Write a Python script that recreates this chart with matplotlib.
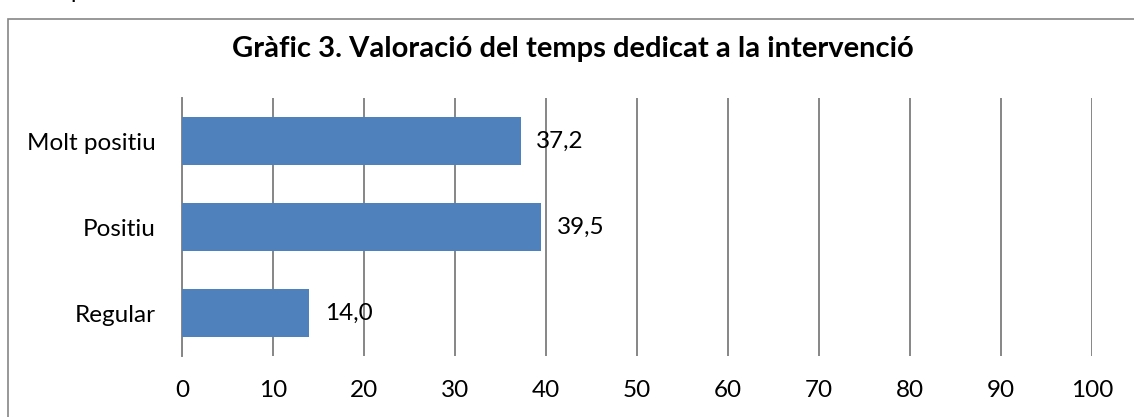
import matplotlib
matplotlib.use("Agg")
import matplotlib.pyplot as plt
from matplotlib.patches import Rectangle

plt.rcParams['font.family'] = ['Lato', 'DejaVu Sans']

# data
categories = ['Molt positiu', 'Positiu', 'Regular']
values = [37.2, 39.5, 14.0]
x_ticks = [0, 10, 20, 30, 40, 50, 60, 70, 80, 90, 100]
title = 'Gràfic 3. Valoració del temps dedicat a la intervenció'

bar_color = '#4F81BD'
grid_color = '#868686'

fig = plt.figure(figsize=(11.34, 4.17), dpi=100)

# outer chart frame (only left and top edges fall inside the picture)
fig.patches.append(Rectangle((8 / 1134, -0.1), 1.2, 1 - 19 / 417 + 0.1,
                             transform=fig.transFigure, fill=False,
                             edgecolor=grid_color, linewidth=1.2))
# piece of text cut off above the frame
fig.text(77 / 1134, 1 + 2 / 417, 'p', fontsize=17, ha='center', va='baseline')

ax = fig.add_axes([182 / 1134, 1 - 356 / 417, 910 / 1134, 258 / 417])

ypos = list(range(len(categories)))
ax.barh(ypos, values, height=0.56, color=bar_color, zorder=3)

for y, v in zip(ypos, values):
    ax.text(v + 1.7, y, f'{v:.1f}'.replace('.', ','), fontsize=17.5,
            va='center', ha='left', zorder=4)

ax.set_xlim(0, 100)
ax.set_ylim(len(categories) - 0.5, -0.5)
ax.set_yticks(ypos)
ax.set_yticklabels(categories, fontsize=17.5)
ax.set_xticks(x_ticks)
ax.set_xticklabels([str(t) for t in x_ticks], fontsize=17.5)
ax.tick_params(axis='x', length=0, pad=17)
ax.tick_params(axis='y', length=0, pad=19)

ax.xaxis.grid(True, color=grid_color, linewidth=1.4)
ax.set_axisbelow(True)
for s in ['top', 'right', 'bottom']:
    ax.spines[s].set_visible(False)
ax.spines['left'].set_color(grid_color)
ax.spines['left'].set_linewidth(1.4)

fig.text(573 / 1134, 1 - 49 / 417, title, fontsize=21, fontweight='bold',
         ha='center', va='center')

fig.savefig('out.png', dpi=100)
